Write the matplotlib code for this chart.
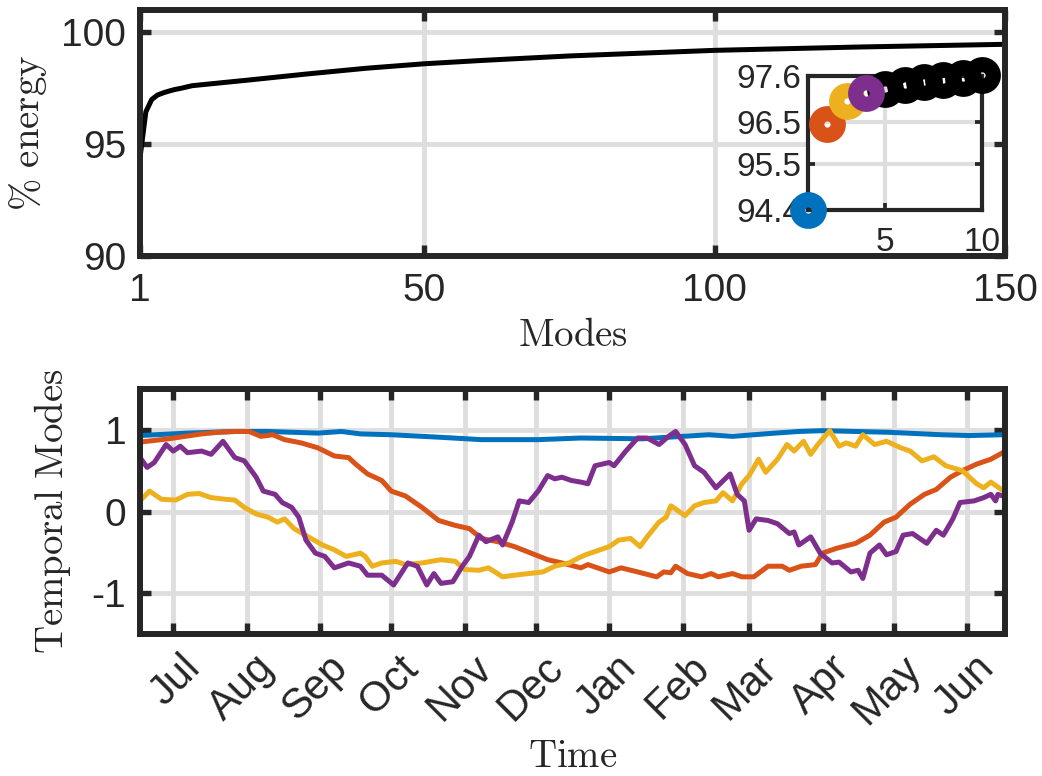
import numpy as np
import matplotlib
matplotlib.use("Agg")
from matplotlib import pyplot as plt
import matplotlib.dates as mdates
import matplotlib.transforms as mtransforms

plt.rcParams['font.family'] = ['Liberation Sans', 'DejaVu Sans']
plt.rcParams['mathtext.fontset'] = 'cm'
plt.rcParams['axes.unicode_minus'] = False

# cumulative energy per mode
modes = [1, 2, 3, 4, 5, 6, 7, 8, 9, 10, 15, 20, 30, 40, 50, 60, 75, 100, 125, 150]
energy = [94.4, 96.45, 97.0, 97.2, 97.3, 97.38, 97.45, 97.5, 97.56, 97.62,
          97.75, 97.88, 98.15, 98.4, 98.6, 98.75, 98.95, 99.2, 99.35, 99.47]

# temporal modes (days since start date)
start_date = np.datetime64('2018-06-17')
blue_days = [0, 20, 40, 54, 75, 85, 93, 106, 126, 144, 168, 186, 212, 240, 250, 268, 278, 288, 316, 338, 350, 364]
blue_vals = [0.93, 0.96, 0.98, 0.98, 0.96, 0.98, 0.95, 0.94, 0.91, 0.88, 0.88, 0.90,
             0.89, 0.94, 0.92, 0.96, 0.98, 0.99, 0.97, 0.94, 0.93, 0.94]

orange_days = [0, 12, 26, 33, 40, 46, 51, 56, 61, 68, 75, 82, 88, 91, 96, 102, 106, 112, 119,
               126, 133, 139, 144, 151, 158, 165, 172, 178, 186, 189, 198, 203, 210, 218, 221,
               224, 226, 231, 237, 241, 244, 250, 254, 259, 265, 271, 274, 279, 285, 288, 294,
               302, 308, 314, 319, 325, 331, 336, 342, 347, 353, 359, 364]
orange_vals = [0.85, 0.89, 0.95, 0.97, 0.98, 0.98, 0.92, 0.94, 0.88, 0.84, 0.78, 0.68, 0.66,
               0.58, 0.46, 0.38, 0.25, 0.19, 0.05, -0.11, -0.17, -0.21, -0.33, -0.37, -0.43,
               -0.51, -0.59, -0.63, -0.69, -0.65, -0.74, -0.69, -0.74, -0.80, -0.74, -0.75,
               -0.67, -0.76, -0.80, -0.76, -0.80, -0.76, -0.80, -0.80, -0.67, -0.67, -0.72,
               -0.67, -0.65, -0.51, -0.45, -0.39, -0.29, -0.13, -0.07, 0.09, 0.21, 0.27, 0.42,
               0.50, 0.58, 0.64, 0.72]

yellow_days = [0, 4, 9, 15, 20, 25, 30, 36, 40, 44, 49, 54, 58, 61, 65, 71, 77, 82, 87, 93,
               95, 98, 102, 108, 112, 119, 127, 133, 137, 143, 147, 153, 158, 164, 170, 175,
               181, 185, 188, 192, 198, 202, 207, 211, 214, 219, 222, 224, 230, 234, 238, 243,
               246, 250, 254, 257, 261, 264, 269, 273, 276, 280, 283, 286, 291, 295, 298, 302,
               305, 310, 315, 321, 325, 330, 335, 340, 347, 353, 356, 359, 364]
yellow_vals = [0.13, 0.25, 0.15, 0.14, 0.21, 0.22, 0.17, 0.15, 0.14, 0.05, -0.03, -0.07,
               -0.13, -0.09, -0.21, -0.31, -0.41, -0.47, -0.55, -0.51, -0.55, -0.67, -0.63,
               -0.61, -0.65, -0.63, -0.59, -0.61, -0.71, -0.72, -0.69, -0.80, -0.78, -0.76,
               -0.74, -0.67, -0.63, -0.57, -0.53, -0.49, -0.43, -0.35, -0.33, -0.43, -0.31,
               -0.13, -0.07, 0.07, -0.05, 0.07, 0.11, 0.13, 0.23, 0.13, 0.34, 0.44, 0.64,
               0.48, 0.64, 0.82, 0.74, 0.86, 0.70, 0.82, 0.99, 0.80, 0.84, 0.80, 0.94, 0.82,
               0.86, 0.78, 0.74, 0.62, 0.67, 0.56, 0.50, 0.34, 0.29, 0.36, 0.26]

purple_days = [0, 3, 6, 11, 14, 17, 20, 26, 30, 35, 40, 44, 49, 52, 57, 60, 64, 67, 70, 74,
               78, 82, 88, 93, 96, 102, 107, 113, 117, 121, 124, 127, 132, 136, 139, 143, 146,
               151, 153, 157, 160, 164, 168, 172, 175, 178, 182, 186, 189, 192, 198, 200, 205,
               210, 214, 219, 223, 226, 230, 234, 238, 243, 249, 252, 255, 257, 260, 265, 269,
               274, 276, 278, 283, 287, 292, 295, 300, 303, 305, 308, 312, 315, 319, 322, 326,
               332, 336, 339, 343, 346, 352, 356, 359, 361, 362, 364]
purple_vals = [0.66, 0.54, 0.60, 0.82, 0.74, 0.80, 0.72, 0.74, 0.70, 0.86, 0.66, 0.62, 0.42,
               0.25, 0.21, 0.11, 0.05, -0.07, -0.35, -0.51, -0.55, -0.69, -0.63, -0.67, -0.78,
               -0.78, -0.90, -0.63, -0.67, -0.90, -0.76, -0.88, -0.86, -0.67, -0.55, -0.29,
               -0.37, -0.31, -0.41, -0.13, 0.13, 0.11, 0.25, 0.44, 0.40, 0.42, 0.38, 0.36,
               0.34, 0.56, 0.60, 0.56, 0.74, 0.90, 0.90, 0.82, 0.92, 0.98, 0.82, 0.56, 0.48,
               0.29, 0.46, 0.21, 0.13, -0.23, -0.09, -0.11, -0.15, -0.27, -0.25, -0.41, -0.31,
               -0.51, -0.63, -0.62, -0.74, -0.72, -0.82, -0.51, -0.41, -0.53, -0.49, -0.29,
               -0.27, -0.39, -0.23, -0.29, -0.09, 0.11, 0.13, 0.17, 0.21, 0.13, 0.21, 0.19]

spine_c = '#262626'
grid_c = '#dedede'
cols = ['#0072BD', '#D95319', '#EDB120', '#7E2F8E']


def style_axes(ax, lw=4.3, tlen=8, fs=28, pad=10, glw=3.5):
    for s in ax.spines.values():
        s.set_linewidth(lw)
        s.set_color(spine_c)
    ax.tick_params(direction='in', length=tlen, width=lw * 0.9, top=True, right=True,
                   colors=spine_c, labelsize=fs, pad=pad)
    ax.grid(True, color=grid_c, linewidth=glw)
    ax.set_axisbelow(True)


fig = plt.figure(figsize=(10.42, 7.76), dpi=100)

# energy
ax1 = fig.add_axes([0.1344, 0.670, 0.8301, 0.317])
ax1.plot(modes, energy, color='k', linewidth=3.6)
ax1.set_xlim(1, 150)
ax1.set_ylim(90, 101)
ax1.set_xticks([1, 50, 100, 150])
ax1.set_yticks([90, 95, 100])
style_axes(ax1)
ax1.tick_params(axis='x', pad=12)
ax1.set_xlabel(r'$\mathrm{Modes}$', fontsize=28, color=spine_c)
ax1.xaxis.set_label_coords(0.5, -0.25)
ax1.set_ylabel(r'$\%\ \mathrm{energy}$', fontsize=28, color=spine_c)
ax1.yaxis.set_label_coords(-0.105, 0.5)

# inset of the first ten modes
ax_in = fig.add_axes([0.7754, 0.7294, 0.167, 0.1727])
ax_in.set_xlim(1, 10)
ax_in.set_ylim(94.4, 97.6)
ax_in.set_xticks([5, 10])
ax_in.set_yticks([94.4, 95.5, 96.5, 97.6])
ax_in.set_yticklabels(['94.4', '95.5', '96.5', '97.6'])
style_axes(ax_in, lw=3, tlen=5, fs=24, pad=5, glw=3)
ax_in.tick_params(axis='x', pad=12)
ax_in.plot(modes[4:10], energy[4:10], 'o', color='k', ms=15.5, mew=11, mfc='none',
           clip_on=False, zorder=3)
for i in range(4):
    ax_in.plot(modes[i], energy[i], 'o', color=cols[i], ms=15.5, mew=11, mfc='none',
               clip_on=False, zorder=4)

# temporal modes
ax2 = fig.add_axes([0.1344, 0.183, 0.8301, 0.3157])
for days, vals, c in [(blue_days, blue_vals, cols[0]), (orange_days, orange_vals, cols[1]),
                      (yellow_days, yellow_vals, cols[2]), (purple_days, purple_vals, cols[3])]:
    t = start_date + np.array(days).astype('timedelta64[D]')
    ax2.plot(t, vals, color=c, linewidth=3.6)
ax2.set_xlim(start_date, start_date + np.timedelta64(365, 'D'))
ax2.set_ylim(-1.5, 1.5)
ax2.set_yticks([-1, 0, 1])
ax2.xaxis.set_major_locator(mdates.MonthLocator())
ax2.xaxis.set_major_formatter(mdates.DateFormatter('%b'))
style_axes(ax2)
ax2.tick_params(axis='x', pad=10, labelsize=30)
offset = mtransforms.ScaledTranslation(0.07, 0, fig.dpi_scale_trans)
for lab in ax2.get_xticklabels():
    lab.set_rotation(45)
    lab.set_ha('right')
    lab.set_va('top')
    lab.set_rotation_mode('anchor')
    lab.set_transform(lab.get_transform() + offset)
ax2.set_xlabel(r'$\mathrm{Time}$', fontsize=28, color=spine_c)
ax2.xaxis.set_label_coords(0.5, -0.43)
ax2.set_ylabel(r'$\mathrm{Temporal\ Modes}$', fontsize=28, color=spine_c)
ax2.yaxis.set_label_coords(-0.078, 0.5)

fig.savefig('out.png', dpi=100)
